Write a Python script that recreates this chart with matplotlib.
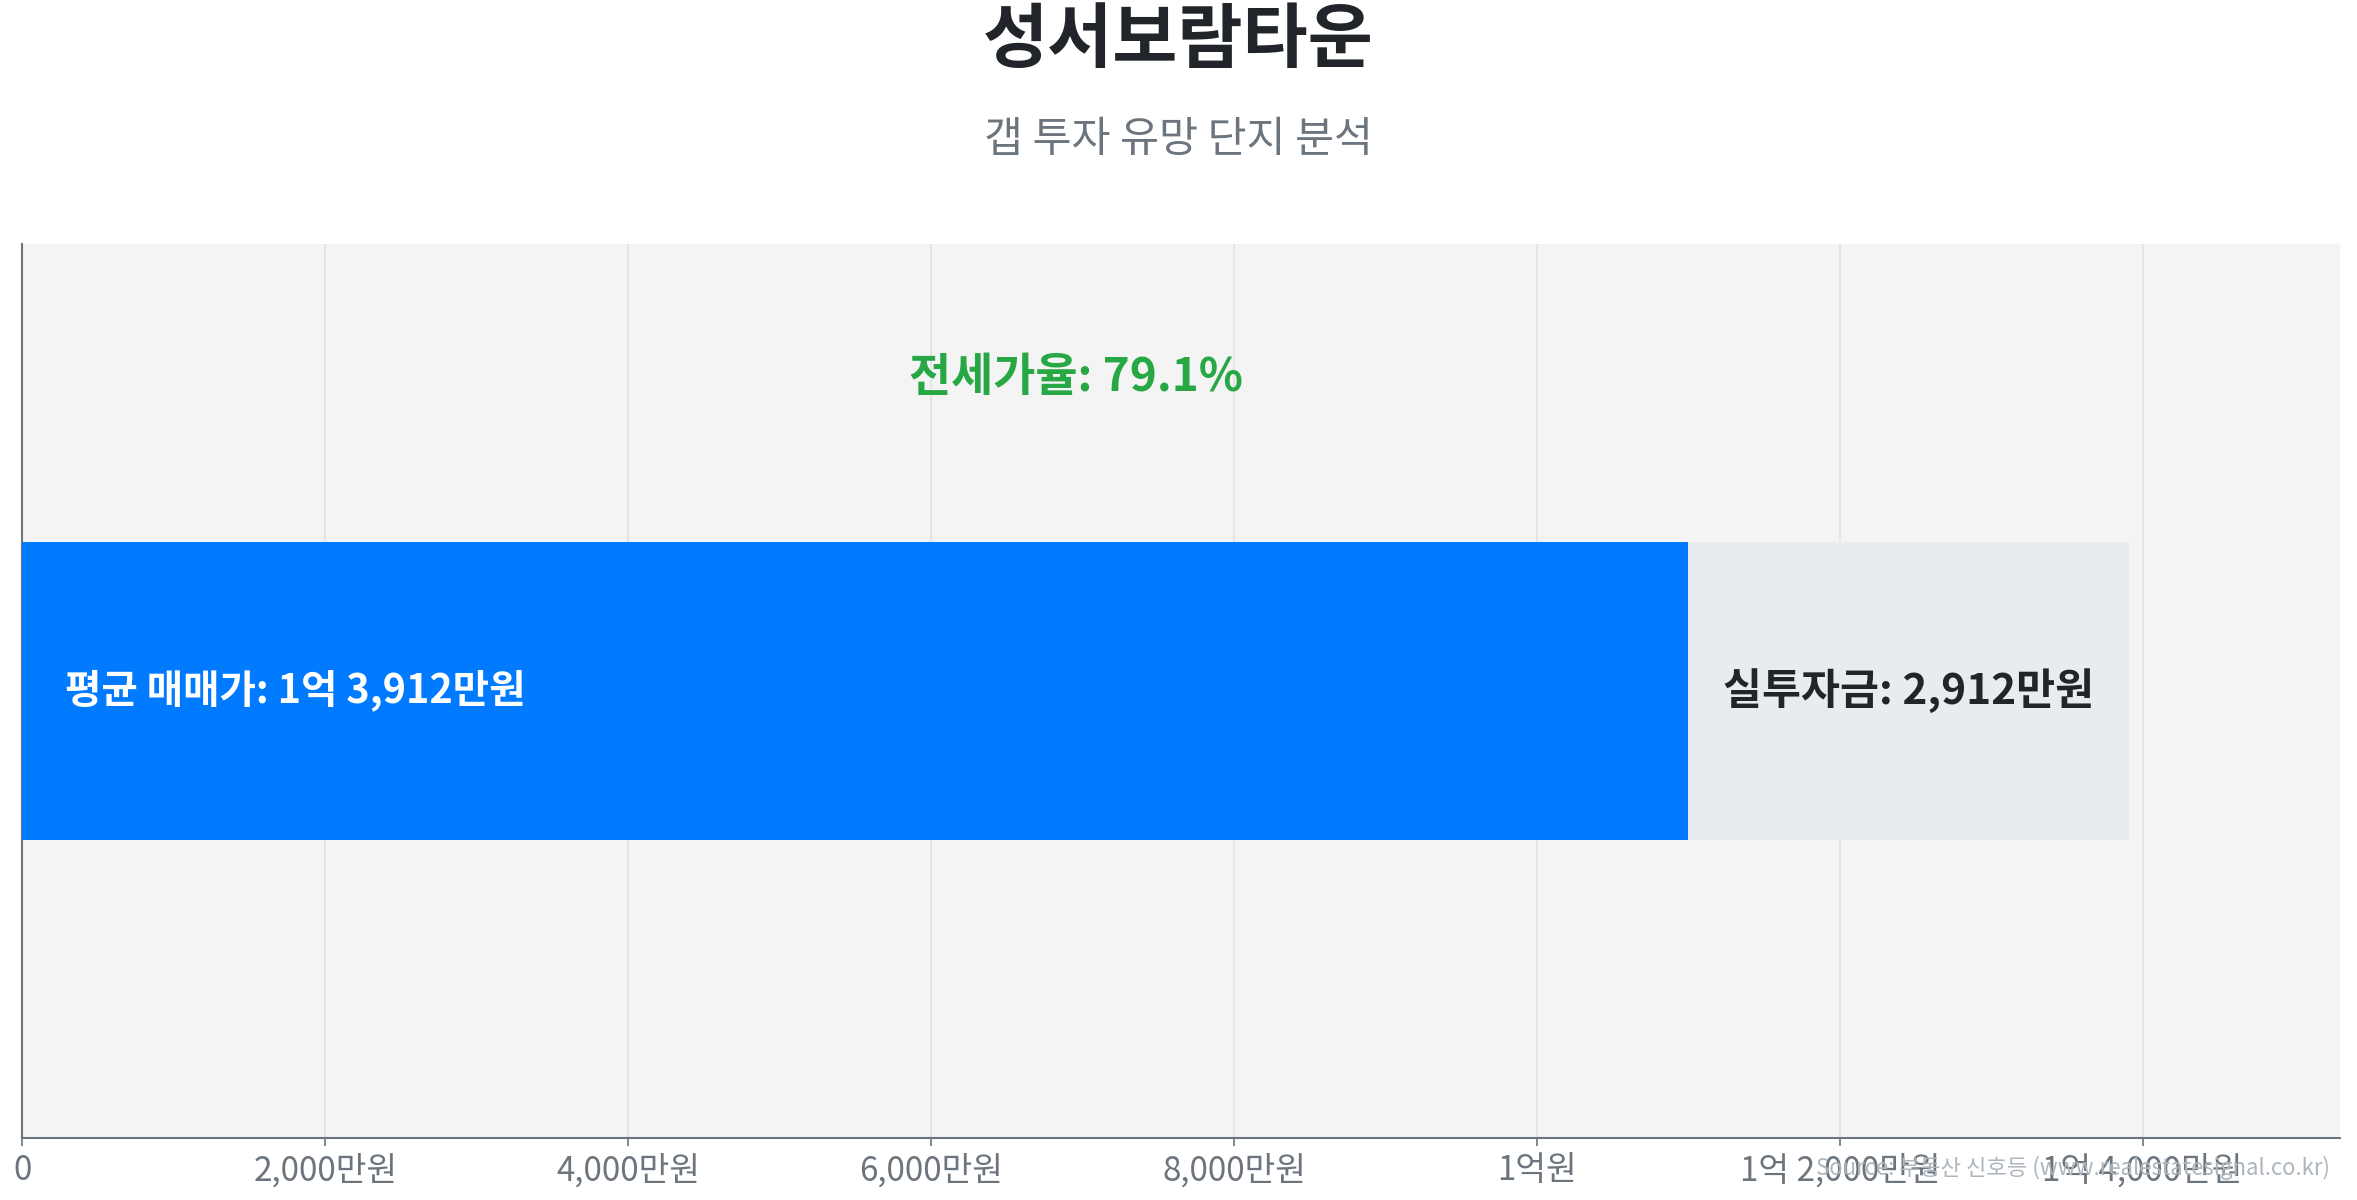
import matplotlib.pyplot as plt

plt.rcParams['font.family'] = ['Noto Sans CJK KR', 'DejaVu Sans']

# data (만원)
complex_name = '성서보람타운'
sale_price = 13912
jeonse_price = 11000
gap = sale_price - jeonse_price
jeonse_ratio = 79.1

tick_values = [0, 2000, 4000, 6000, 8000, 10000, 12000, 14000]
tick_labels = ['0', '2,000만원', '4,000만원', '6,000만원', '8,000만원',
               '1억원', '1억 2,000만원', '1억 4,000만원']

fig = plt.figure(figsize=(23.57, 12), dpi=100)
ax = fig.add_axes([0.0095, 0.0517, 0.9833, 0.7453])
ax.set_facecolor('#f4f4f4')

# bars
ax.barh(0, jeonse_price, height=1, color='#007bff', zorder=3)
ax.barh(0, gap, left=jeonse_price, height=1, color='#e9ecef', zorder=3)

ax.text(sale_price * 0.02, 0, '평균 매매가: 1억 3,912만원', color='white',
        fontsize=28.5, fontweight='bold', ha='left', va='center', zorder=4)
ax.text(jeonse_price + gap / 2, 0, f'실투자금: {gap:,}만원', color='#212529',
        fontsize=30.5, fontweight='bold', ha='center', va='center', zorder=4)
ax.text(sale_price / 2, 1.05, f'전세가율: {jeonse_ratio}%', color='#28a745',
        fontsize=33, fontweight='bold', ha='center', va='center', zorder=4)

ax.set_xlim(0, sale_price * 1.1)
ax.set_ylim(-1.5, 1.5)
ax.set_xticks(tick_values)
ax.set_xticklabels(tick_labels)
ax.set_yticks([])
ax.tick_params(axis='x', colors='#6c757d', labelsize=24, length=6, width=1.2, pad=5)
ax.grid(True, axis='x', color='#e3e3e3', linewidth=1.2, zorder=0)
ax.set_axisbelow(True)
for side in ['top', 'right']:
    ax.spines[side].set_visible(False)
for side in ['left', 'bottom']:
    ax.spines[side].set_color('#6c757d')
    ax.spines[side].set_linewidth(1.5)

fig.text(0.5, 0.966, complex_name, ha='center', va='center',
         fontsize=51, fontweight='bold', color='#212529')
fig.text(0.5, 0.883, '갭 투자 유망 단지 분석', ha='center', va='center',
         fontsize=30.5, color='#6c757d')
fig.text(0.9885, 0.027, 'Source: 부동산 신호등 (www.realestatesignal.co.kr)',
         ha='right', va='center', fontsize=16, color='#adb5bd')

fig.savefig('out.png', dpi=100, facecolor='white')
